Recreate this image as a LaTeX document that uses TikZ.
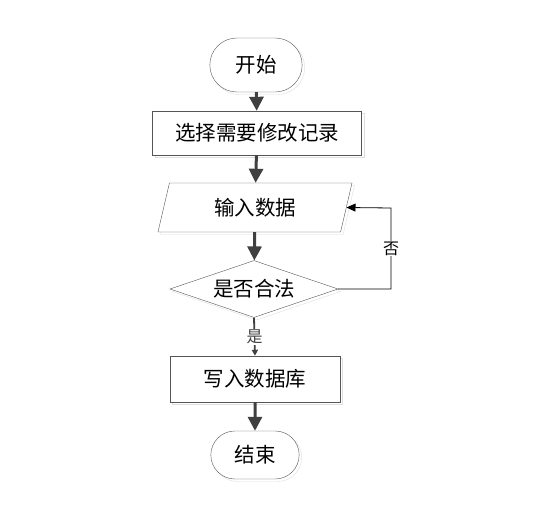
\documentclass[tikz,border=0pt]{standalone}
\usepackage{fontspec}
\setmainfont{Noto Sans CJK SC}
\usetikzlibrary{arrows.meta,shapes.geometric,shapes.misc,shadows}
\definecolor{linegray}{HTML}{404040}
\definecolor{boxgray}{HTML}{555555}

\begin{document}
\begin{tikzpicture}[x=1pt,y=-1pt,
	every node/.style={font=\fontsize{20.5}{24}\selectfont},
	ghost/.style={general shadow={shadow xshift=2.5pt,shadow yshift=-2.5pt,draw=gray!25,fill=white}},
	terminal/.style={draw=boxgray,rounded rectangle,fill=white,ghost,minimum width=99pt,minimum height=54pt},
	process/.style={draw=boxgray,rectangle,fill=white,ghost,minimum height=44pt},
	io/.style={draw=boxgray,trapezium,trapezium left angle=66,trapezium right angle=114,
		trapezium stretches body,fill=white,ghost,minimum width=194pt,minimum height=49pt},
	decision/.style={draw=boxgray,diamond,aspect=2.95,inner sep=0pt,fill=white,ghost,
		minimum width=168pt,minimum height=57pt},
	flow/.style={-{Triangle[length=14pt,width=14pt]},color=linegray,line width=3pt},
	back/.style={-{Triangle[length=9pt,width=8pt]},color=black,line width=0.8pt}]
	\useasboundingbox (0,0) rectangle (543,510);
	\node[terminal] (N0) at (256,65) {开始};
	\node[process,minimum width=209pt] (N1) at (257,133) {选择需要修改记录};
	\node[io] (N2) at (255,207.5) {输入数据};
	\node[decision] (N3) at (254,289) {是否合法};
	\node[process,minimum width=170pt,minimum height=46pt] (N4) at (255,379) {写入数据库};
	\node[terminal,minimum width=95pt,minimum height=48pt] (N5) at (255,455) {结束};
	\coordinate (C0) at (391,289);
	\coordinate (C1) at (391,208);
	\path[flow]
	     (N0) edge (N1)  (N1) edge (N2)
	     (N2) edge (N3)  (N4) edge (N5);
	\draw[-{Triangle[length=6pt,width=6pt]},color=linegray,line width=1.8pt]
	     (N3.south) -- node[fill=white,inner sep=1pt,font=\fontsize{16}{18}\selectfont] {是} (N4.north);
	\draw[back] (N3.east) -- (C0) -- node[fill=white,inner sep=1pt,font=\fontsize{16}{18}\selectfont] {否} (C1) -- (N2.east);
\end{tikzpicture}
\end{document}
